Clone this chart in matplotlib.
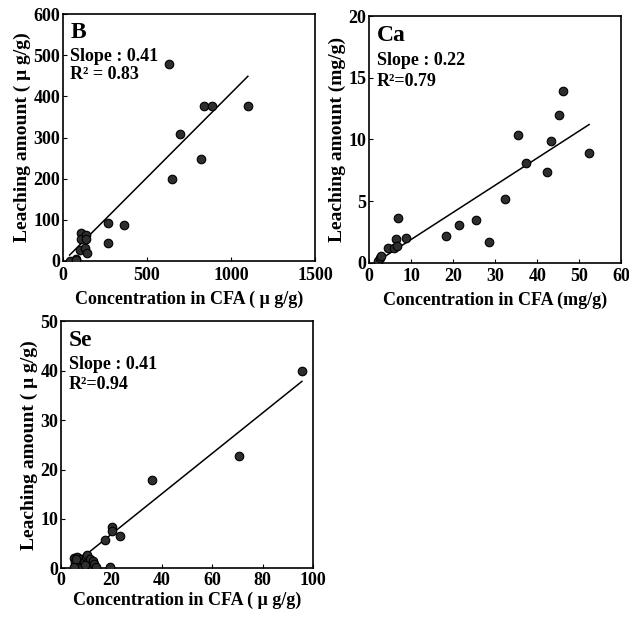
import matplotlib
matplotlib.use("Agg")
import matplotlib.pyplot as plt
import numpy as np

# Boron (ug/g)
b_conc = [40, 75, 80, 99, 109, 109, 129, 135, 135, 143, 268, 268, 361,
          629, 647, 694, 819, 837, 885, 1101]
b_leach = [0, 6, 2, 27, 67, 53, 31, 63, 53, 19, 93, 43, 87,
           479, 199, 308, 248, 378, 378, 378]
b_fit = (0.41, -2.0, 40, 1100)  # slope, intercept, x start, x end

# Calcium (mg/g)
ca_conc = [2.1, 2.5, 2.8, 4.5, 5.9, 6.3, 6.6, 6.9, 8.7, 18.3, 21.3, 25.3,
           28.5, 32.3, 35.3, 37.2, 42.4, 43.3, 45.2, 46.2, 52.3]
ca_leach = [0.13, 0.4, 0.54, 1.2, 1.2, 1.9, 1.4, 3.6, 2.0, 2.2, 3.07, 3.5,
            1.67, 5.17, 10.35, 8.1, 7.4, 9.9, 12.0, 13.96, 8.9]
ca_fit = (0.22, -0.3, 1.7, 52.3)

# Selenium (ug/g)
se_conc = [5, 5.5, 6, 6.5, 7, 7.5, 8, 8.5, 9, 10, 10.5, 11, 11.5, 12, 12.5,
           13, 14, 5, 6, 9.5, 17.3, 20.2, 20.4, 23.5, 19.3, 36.0, 70.6, 95.5]
se_leach = [2.0, 1.2, 0.5, 2.3, 1.5, 0.8, 1.8, 0.3, 1.2, 2.2, 2.6, 1.0, 1.8,
            0.5, 1.4, 0.9, 0.2, 0.2, 1.8, 0.6, 5.7, 8.3, 7.6, 6.5, 0.2,
            17.9, 22.8, 40.0]
se_fit = (0.41, -1.3, 7, 95.5)

plt.rcParams["font.family"] = ["Liberation Serif", "DejaVu Serif"]
plt.rcParams["font.weight"] = "bold"
plt.rcParams["axes.labelweight"] = "bold"

fig = plt.figure(figsize=(6.29, 6.17), dpi=100)


def panel(rect, x, y, fit, xlim, ylim, xticks, yticks, labels, text_y,
          xlabel, ylabel, xpad, xlabelpad):
    ax = fig.add_axes(rect)
    ax.scatter(x, y, s=38, facecolor="#2e2e2e", edgecolor="black",
               linewidth=0.8, zorder=3)
    k, b0, x0, x1 = fit
    lx = np.array([x0, x1])
    ax.plot(lx, k * lx + b0, color="black", linewidth=1.1, zorder=2)
    ax.set_xlim(*xlim)
    ax.set_ylim(*ylim)
    ax.set_xticks(xticks)
    ax.set_yticks(yticks)
    ax.tick_params(direction="in", length=3, width=0.8, labelsize=13)
    ax.tick_params(axis="x", pad=xpad)
    ax.tick_params(axis="y", pad=2)
    for sp in ax.spines.values():
        sp.set_linewidth(1.2)
    ax.set_xlabel(xlabel, fontsize=13, labelpad=xlabelpad)
    ax.set_ylabel(ylabel, fontsize=14, labelpad=2)
    name, slope_txt, r2_txt = labels
    ax.text(0.03, text_y[0], name, transform=ax.transAxes, fontsize=17,
            fontweight="bold", va="top", ha="left")
    ax.text(0.03, text_y[1], slope_txt, transform=ax.transAxes, fontsize=13,
            fontweight="bold", va="top", ha="left")
    ax.text(0.03, text_y[2], r2_txt, transform=ax.transAxes, fontsize=13,
            fontweight="bold", va="top", ha="left")
    return ax


panel([0.100, 0.577, 0.401, 0.400], b_conc, b_leach, b_fit,
      (0, 1500), (0, 600), [0, 500, 1000, 1500], [0, 100, 200, 300, 400, 500, 600],
      ("B", "Slope : 0.41", "R\u00b2 = 0.83"), (0.97, 0.865, 0.79),
      "Concentration in CFA ( \u03bc g/g)", "Leaching amount ( \u03bc g/g)",
      4.5, 5)

panel([0.587, 0.574, 0.401, 0.400], ca_conc, ca_leach, ca_fit,
      (0, 60), (0, 20), [0, 10, 20, 30, 40, 50, 60], [0, 5, 10, 15, 20],
      ("Ca", "Slope : 0.22", "R\u00b2=0.79"), (0.965, 0.855, 0.77),
      "Concentration in CFA (mg/g)", "Leaching amount (mg/g)",
      3.5, 5)

panel([0.097, 0.079, 0.401, 0.400], se_conc, se_leach, se_fit,
      (0, 100), (0, 50), [0, 20, 40, 60, 80, 100], [0, 10, 20, 30, 40, 50],
      ("Se", "Slope : 0.41", "R\u00b2=0.94"), (0.965, 0.86, 0.78),
      "Concentration in CFA ( \u03bc g/g)", "Leaching amount ( \u03bc g/g)",
      2.5, 2)

fig.savefig("out.png", dpi=100)
